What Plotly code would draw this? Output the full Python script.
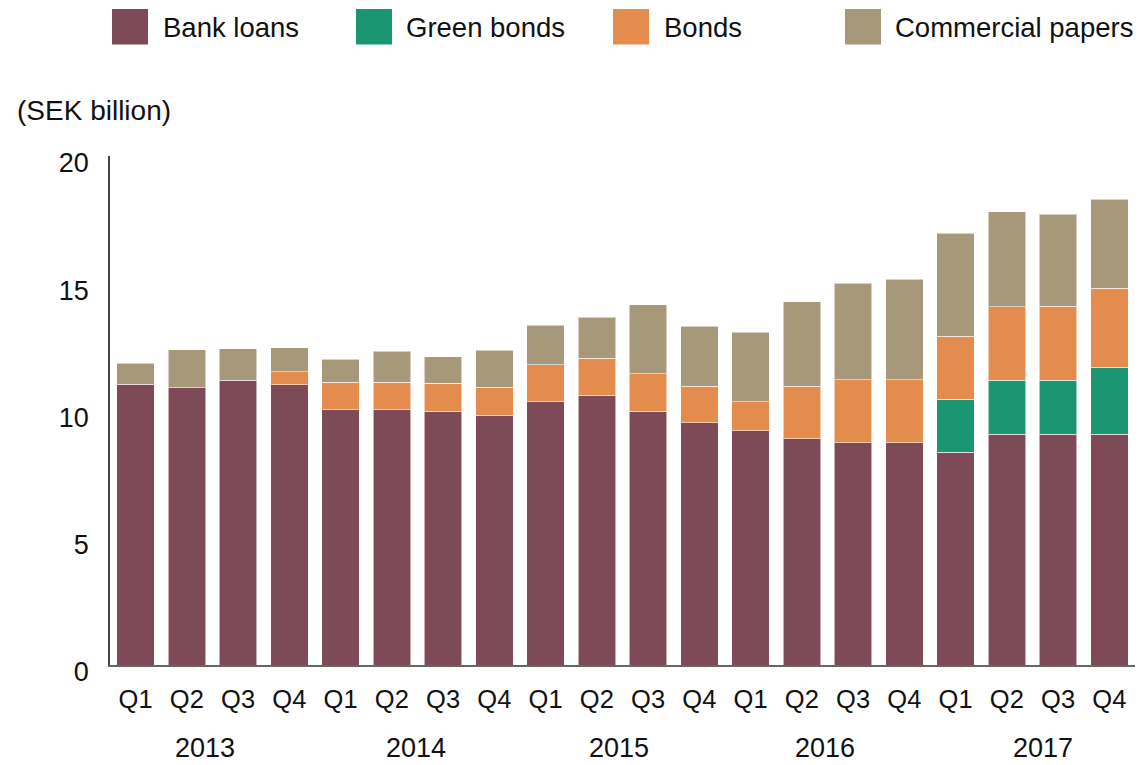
import plotly.graph_objects as go

# Quarterly funding mix, SEK billion
quarters = ["Q1", "Q2", "Q3", "Q4"] * 5
years = ["2013", "2014", "2015", "2016", "2017"]

bank_loans = [11.04, 10.89, 11.19, 11.02, 10.02, 10.02, 9.97, 9.81, 10.35, 10.60,
              9.98, 9.51, 9.20, 8.89, 8.73, 8.73, 8.35, 9.06, 9.06, 9.06]
green_bonds = [None] * 16 + [2.10, 2.13, 2.13, 2.63]
bonds = [None, None, None, 0.50, 1.10, 1.10, 1.10, 1.10, 1.45, 1.46,
         1.46, 1.44, 1.15, 2.06, 2.47, 2.47, 2.47, 2.88, 2.90, 3.11]
commercial_papers = [0.82, 1.49, 1.24, 0.95, 0.90, 1.20, 1.05, 1.46, 1.55, 1.61,
                     2.71, 2.36, 2.73, 3.33, 3.81, 3.95, 4.04, 3.74, 3.62, 3.51]

series = [
    ("Bank loans", bank_loans, "#7f4a58"),
    ("Green bonds", green_bonds, "#1a9673"),
    ("Bonds", bonds, "#e38c4e"),
    ("Commercial papers", commercial_papers, "#a8987a"),
]

FONT = "Liberation Sans, Arial, sans-serif"
TXT = "#111111"
x = list(range(len(quarters)))

# horizontal placement of the year captions (in bar-index units)
year_label_x = [1.36, 5.47, 9.44, 13.46, 17.70]

fig = go.Figure()
for name, vals, color in series:
    fig.add_trace(go.Bar(
        x=x, y=vals, name=name, width=0.735,
        marker=dict(color=color, line=dict(color="rgba(255,255,255,0.55)", width=1)),
        showlegend=False,
    ))

# Legend drawn as swatches + labels across the top
legend_pos = [(112, 163), (356, 406), (613, 664), (845, 895)]
W, H = 1143, 765
ml, mr, mt, mb = 110, 8, 156, 100
pw, ph = W - ml - mr, H - mt - mb


def px_x(p):
    return (p - ml) / pw


def px_y(p):
    return (H - mb - p) / ph


shapes = []
annotations = []
for (name, _, color), (sx, tx) in zip(series, legend_pos):
    shapes.append(dict(type="rect", xref="paper", yref="paper",
                       x0=px_x(sx), x1=px_x(sx + 36), y0=px_y(44.5), y1=px_y(9),
                       fillcolor=color, line=dict(width=0)))
    annotations.append(dict(text=name, xref="paper", yref="paper",
                            x=px_x(tx - 2), y=px_y(28), xanchor="left", yanchor="middle",
                            showarrow=False, font=dict(family=FONT, size=27.5, color=TXT)))

# Year labels under each group of four quarters
for yr, xp in zip(years, year_label_x):
    annotations.append(dict(text=yr, xref="x", yref="paper", x=xp, y=px_y(748),
                            xanchor="center", yanchor="middle", showarrow=False,
                            font=dict(family=FONT, size=27, color=TXT)))

annotations.append(dict(text="(SEK billion)", xref="paper", yref="paper",
                        x=px_x(15), y=px_y(110), xanchor="left", yanchor="middle",
                        showarrow=False, font=dict(family=FONT, size=28, color=TXT)))

fig.update_layout(
    barmode="stack",
    width=W, height=H,
    margin=dict(l=ml, r=mr, t=mt, b=mb, pad=0),
    paper_bgcolor="white", plot_bgcolor="white",
    shapes=shapes, annotations=annotations,
    font=dict(family=FONT, size=26, color=TXT),
    xaxis=dict(
        range=[-0.5, len(quarters) - 0.5], tickmode="array", tickvals=x, ticktext=quarters,
        showgrid=False, zeroline=False, showline=True, linecolor="#666666", linewidth=1.5,
        ticks="outside", ticklen=11, tickcolor="rgba(0,0,0,0)",
        tickfont=dict(family=FONT, size=25.5, color=TXT),
    ),
    yaxis=dict(
        range=[0, 20], tickvals=[0, 5, 10, 15, 20], showgrid=False, zeroline=False,
        showline=True, linecolor="#444444", linewidth=1.5,
        ticks="outside", ticklen=14, tickcolor="rgba(0,0,0,0)",
        tickfont=dict(family=FONT, size=27, color=TXT),
        ticklabelshift=7,
    ),
)

fig.write_html("out.html")
